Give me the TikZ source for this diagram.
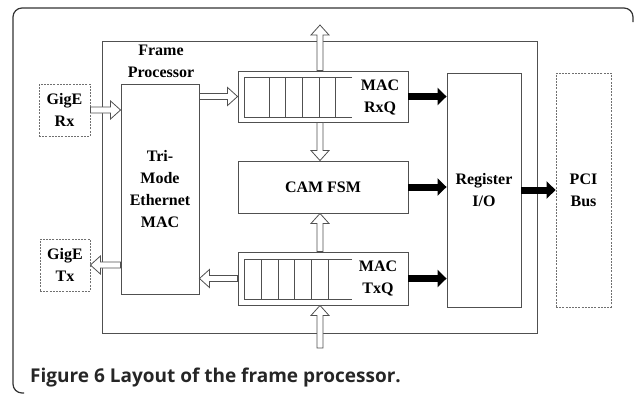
\documentclass[tikz,border=0pt]{standalone}
\usepackage{fontspec}
\setmainfont{Liberation Serif}
\newfontfamily\capfont{Open Sans}
\usetikzlibrary{calc,arrows.meta}
\definecolor{lc}{HTML}{505050}
\definecolor{dc}{HTML}{707070}
\begin{document}
\begin{tikzpicture}[x=1pt,y=-1pt,
  box/.style={draw=lc,line width=0.9pt,inner sep=0pt,align=center,
    font=\bfseries\fontsize{16}{22}\selectfont},
  dbox/.style={box,draw=dc,dash pattern=on 2pt off 1.2pt,line width=0.8pt},
  harr/.style={draw=lc,fill=white,line width=0.8pt,to path={let \p1=(\tikztostart),\p2=(\tikztotarget),\n1={10pt*sign(\x2-\x1)} in
    (\x1,\y1-3pt) -- (\x2-\n1,\y1-3pt) -- (\x2-\n1,\y1-9pt) -- (\x2,\y1) -- (\x2-\n1,\y1+9pt) -- (\x2-\n1,\y1+3pt) -- (\x1,\y1+3pt) -- cycle}},
  varr/.style={draw=lc,fill=white,line width=0.8pt,to path={let \p1=(\tikztostart),\p2=(\tikztotarget),\n1={10pt*sign(\y2-\y1)} in
    (\x1-3pt,\y1) -- (\x1-3pt,\y2-\n1) -- (\x1-9pt,\y2-\n1) -- (\x1,\y2) -- (\x1+9pt,\y2-\n1) -- (\x1+3pt,\y2-\n1) -- (\x1+3pt,\y1) -- cycle}},
  barr/.style={draw=black,line width=7pt,-{Triangle[length=9pt,width=17pt]}},
  qline/.style={draw=lc,line width=0.9pt}]
\useasboundingbox (0,0) rectangle (634,394);
% outer frame
\draw[draw=black!80,line width=1.2pt,rounded corners=9pt] (24,393) -| (13,8) -| (633,22);
% frame processor
\node[box,minimum width=435pt,minimum height=292pt] (fp) at (319.5,187) {};
\node[font=\bfseries\fontsize{16}{22}\selectfont,align=center,inner sep=0pt] (fpl) at (161,61) {Frame\\Processor};
% nodes
\node[dbox,minimum width=51pt,minimum height=52pt] (rx) at (64.5,110) {GigE\\Rx};
\node[dbox,minimum width=50pt,minimum height=52pt] (tx) at (65,265) {GigE\\Tx};
\node[box,minimum width=78pt,minimum height=210pt] (mac) at (160,189) {Tri-\\Mode\\Ethernet\\MAC};
\node[box,minimum width=170pt,minimum height=51pt] (rxq) at (323,96.5) {};
\node[box,minimum width=170pt,minimum height=52pt] (cam) at (323,187) {CAM FSM};
\node[box,minimum width=170pt,minimum height=53pt] (txq) at (323,278.5) {};
\node[box,minimum width=74pt,minimum height=234pt] (reg) at (484,190) {Register\\I/O};
\node[dbox,minimum width=55pt,minimum height=234pt] (pci) at (583.5,190) {PCI\\Bus};
\node[font=\bfseries\fontsize{16}{22}\selectfont,align=center,inner sep=0pt] (rxql) at (380,97) {MAC\\RxQ};
\node[font=\bfseries\fontsize{16}{22}\selectfont,align=center,inner sep=0pt] (txql) at (378,278) {MAC\\TxQ};
% queues
\draw[qline] (352,77) -- (244,77) -- (244,117) -- (352,117);
\foreach \x in {269,285,302,319,335} \draw[qline] (\x,77) -- (\x,117);
\draw[qline] (352,259) -- (244,259) -- (244,299) -- (352,299);
\foreach \x in {261,278,294,311,328} \draw[qline] (\x,259) -- (\x,299);
% free ends
\coordinate (topend) at (320,25);
\coordinate (botend) at (320,348);
% hollow arrows
\draw[harr] (rx.east) to (rx.east -| mac.west);
\draw[harr] (mac.east |- rxq.west) to (rxq.west);
\draw[varr] (rxq.north -| topend) to (topend);
\draw[varr] (rxq.south -| topend) to (cam.north -| topend);
\draw[varr] (txq.north -| topend) to (cam.south -| topend);
\draw[varr] (botend) to (txq.south -| botend);
\draw[harr] (txq.west) to (txq.west -| mac.east);
\draw[harr] (mac.west |- tx.east) to (tx.east);
% black arrows
\draw[barr] (rxq.east) -- (rxq.east -| reg.west);
\draw[barr] (cam.east) -- (cam.east -| reg.west);
\draw[barr] (txq.east) -- (txq.east -| reg.west);
\draw[barr] (reg.east |- pci.west) -- (pci.west);
% caption
\node[anchor=base west,inner sep=0pt,font=\capfont\bfseries\fontsize{19}{22}\selectfont,text=black!85] (cap) at (30,382) {Figure 6 Layout of the frame processor.};
\end{tikzpicture}
\end{document}
